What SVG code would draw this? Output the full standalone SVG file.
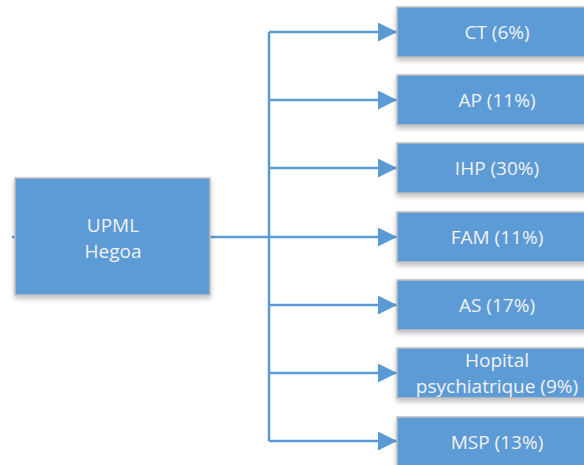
<svg xmlns="http://www.w3.org/2000/svg" width="584" height="465" viewBox="0 0 584 465">
<defs>
<filter id="sh" x="-10%" y="-10%" width="130%" height="140%">
<feGaussianBlur in="SourceAlpha" stdDeviation="2.5"/>
<feOffset dx="0" dy="3" result="b"/>
<feComponentTransfer><feFuncA type="linear" slope="0.25"/></feComponentTransfer>
<feMerge><feMergeNode/><feMergeNode in="SourceGraphic"/></feMerge>
</filter>
<marker id="ah" markerUnits="userSpaceOnUse" markerWidth="20" markerHeight="20" refX="19" refY="9.5" orient="auto">
<path d="M0,0 L19,9.5 L0,19 Z" fill="#5B9BD5"/>
</marker>
</defs>
<style>
.box{fill:#5B9BD5;stroke:#BFBFBF;stroke-width:1.5;filter:url(#sh)}
.t{font-family:"Open Sans","Noto Sans","Liberation Sans",sans-serif;font-size:19px;fill:#F2F2F2;text-anchor:middle}
.c{stroke:#5B9BD5;stroke-width:2.5;fill:none}
</style>
<rect width="584" height="465" fill="#FFFFFF"/>
<g id="connectors">
<line class="c" x1="12" y1="237" x2="15" y2="237"/>
<line class="c" x1="210" y1="237" x2="269" y2="237"/>
<line class="c" x1="269" y1="32" x2="269" y2="441"/>
<line class="c" x1="269" y1="32" x2="397" y2="32" marker-end="url(#ah)"/>
<line class="c" x1="269" y1="100" x2="397" y2="100" marker-end="url(#ah)"/>
<line class="c" x1="269" y1="168" x2="397" y2="168" marker-end="url(#ah)"/>
<line class="c" x1="269" y1="237" x2="397" y2="237" marker-end="url(#ah)"/>
<line class="c" x1="269" y1="305" x2="397" y2="305" marker-end="url(#ah)"/>
<line class="c" x1="269" y1="373" x2="397" y2="373" marker-end="url(#ah)"/>
<line class="c" x1="269" y1="441" x2="397" y2="441" marker-end="url(#ah)"/>
</g>
<g id="upml">
<rect class="box" x="15" y="178" width="195" height="117"/>
<text class="t" x="113" y="232">UPML</text>
<text class="t" x="113" y="258">Hegoa</text>
</g>
<g id="ct">
<rect class="box" x="397" y="7" width="200" height="50"/>
<text class="t" x="497" y="39">CT (6%)</text>
</g>
<g id="ap">
<rect class="box" x="397" y="75" width="200" height="50"/>
<text class="t" x="497" y="107">AP (11%)</text>
</g>
<g id="ihp">
<rect class="box" x="397" y="143" width="200" height="50"/>
<text class="t" x="497" y="175">IHP (30%)</text>
</g>
<g id="fam">
<rect class="box" x="397" y="212" width="200" height="50"/>
<text class="t" x="497" y="244">FAM (11%)</text>
</g>
<g id="as">
<rect class="box" x="397" y="280" width="200" height="50"/>
<text class="t" x="497" y="312">AS (17%)</text>
</g>
<g id="hopital">
<rect class="box" x="397" y="348" width="200" height="50"/>
<text class="t" x="497" y="367">Hopital</text>
<text class="t" x="497" y="393">psychiatrique (9%)</text>
</g>
<g id="msp">
<rect class="box" x="397" y="417" width="200" height="50"/>
<text class="t" x="497" y="449">MSP (13%)</text>
</g>
</svg>
